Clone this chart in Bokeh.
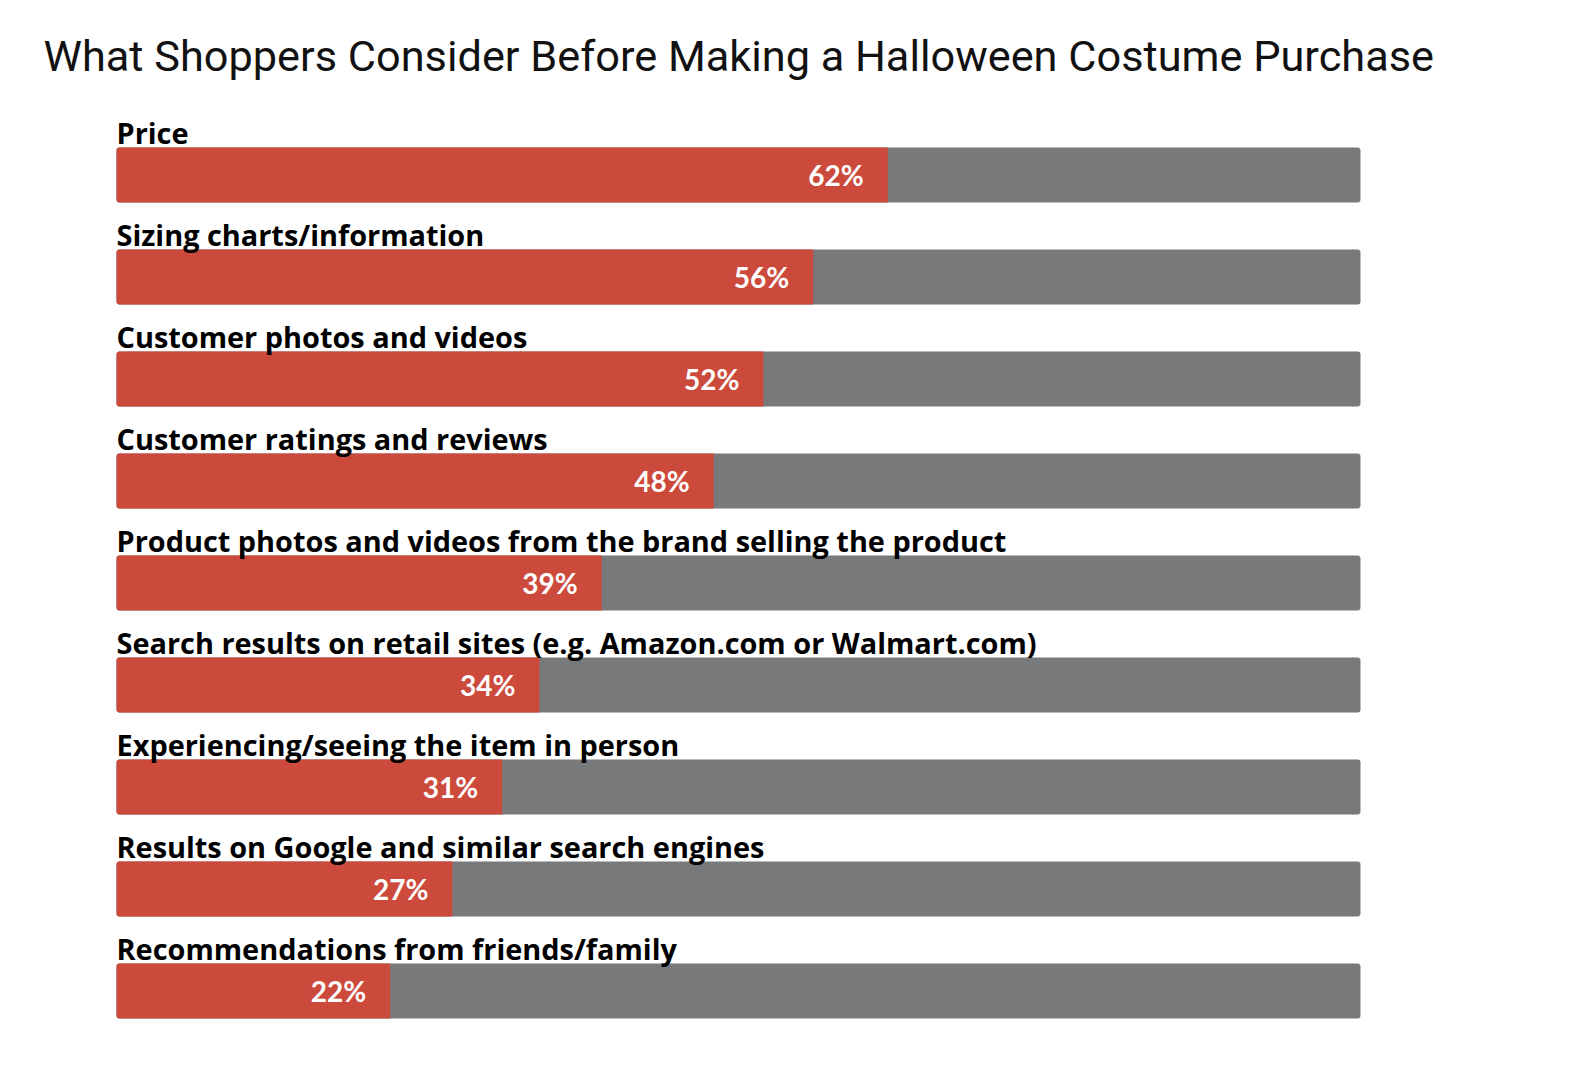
from bokeh.plotting import figure
from bokeh.models import Range1d, Label, ColumnDataSource
from bokeh.core.properties import value
from bokeh.embed import file_html
from bokeh.resources import INLINE

title_text = "What Shoppers Consider Before Making a Halloween Costume Purchase"
categories = [
    "Price",
    "Sizing charts/information",
    "Customer photos and videos",
    "Customer ratings and reviews",
    "Product photos and videos from the brand selling the product",
    "Search results on retail sites (e.g. Amazon.com or Walmart.com)",
    "Experiencing/seeing the item in person",
    "Results on Google and similar search engines",
    "Recommendations from friends/family",
]
percents = [62, 56, 52, 48, 39, 34, 31, 27, 22]
total = [100] * len(categories)

RED = "#CC4A3C"
GRAY = "#78797B"

W, H = 1590, 1080
left_px, right_px = 116, 1360
px_per = (right_px - left_px) / 100.0
first_center, pitch = 174.5, 102.0

idx = list(range(len(categories)))
src = ColumnDataSource(dict(
    y=idx,
    cat=categories,
    pct=percents,
    total=total,
    lab=[f"{v}%" for v in percents],
    ylab=[i - 43.0 / pitch for i in idx],
))

p = figure(width=W, height=H, output_backend="svg", toolbar_location=None,
           x_range=Range1d(-left_px / px_per, (W - left_px) / px_per),
           y_range=Range1d((H - first_center) / pitch, -first_center / pitch),
           min_border=0, outline_line_color=None, background_fill_color="white")
p.xaxis.visible = False
p.yaxis.visible = False
p.grid.visible = False

bh = 55 / pitch
p.hbar(y="y", left=0, right="total", height=bh, source=src, fill_color=GRAY,
       line_color=None, border_radius=3)
p.hbar(y="y", left=0, right="pct", height=bh, source=src, fill_color=RED,
       line_color=None, border_radius=[3, 0, 0, 3])

p.text(x=0, y="ylab", text="cat", source=src, text_font=value("Open Sans"),
       text_font_style="bold", text_font_size="28.9px", text_color="#000000",
       text_baseline="alphabetic", text_align="left")
p.text(x="pct", y="y", text="lab", source=src, text_font=value("Lato"),
       text_font_style="bold", text_font_size="28px", text_color="white",
       text_baseline="middle", text_align="right", x_offset=-24)

p.add_layout(Label(x=43, y=H - 56, x_units="screen", y_units="screen",
                   text=title_text, text_font="Roboto", text_font_size="43.3px",
                   text_color="#111111", text_baseline="alphabetic"))

open("out.html", "w").write(file_html(p, INLINE))
